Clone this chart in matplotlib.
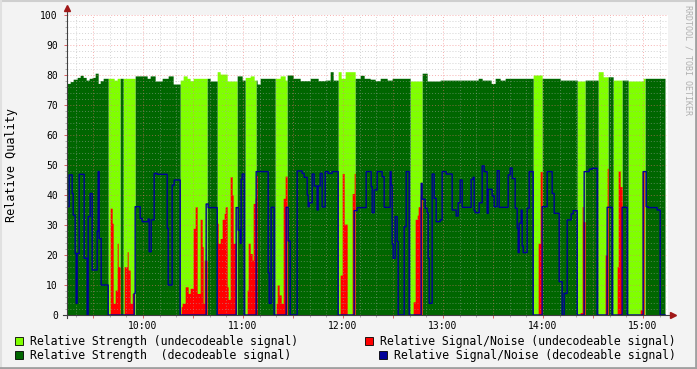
import numpy as np
import matplotlib.pyplot as plt
from matplotlib.ticker import MultipleLocator, FuncFormatter
from matplotlib.patches import Rectangle
from matplotlib.lines import Line2D

# time axis: minutes after 09:00
t_start = 14.4
t_end = 373.2

# periods where the signal could not be decoded (start, end)
undec_start = [39.0, 48.0, 82.2, 104.4, 121.2, 139.2, 177.0, 220.2, 294.0, 320.4, 333.0, 342.0, 351.0]
undec_end = [46.2, 55.2, 98.4, 116.4, 127.8, 146.4, 187.2, 227.4, 299.4, 325.2, 339.0, 347.4, 361.2]

# relative strength, step breakpoints (minute, value)
strength_t = [14.4, 16.2, 18.0, 20.4, 22.2, 24.0, 25.8, 27.6, 29.4, 31.2, 33.0, 34.2, 36.0, 42.6,
              44.4, 55.2, 62.4, 64.2, 67.2, 71.4, 75.0, 78.0, 82.2, 84.0, 86.4, 88.2, 90.0, 100.2,
              104.4, 106.2, 110.4, 116.4, 119.4, 121.2, 124.2, 126.6, 128.4, 130.2, 142.2, 145.2,
              146.4, 150.0, 154.2, 160.2, 165.0, 169.2, 172.2, 174.0, 177.0, 178.8, 181.2, 187.2,
              190.2, 192.6, 196.2, 199.2, 202.2, 206.4, 209.4, 220.2, 227.4, 230.4, 238.2, 261.0,
              263.4, 268.8, 271.2, 274.2, 277.2, 294.0, 299.4, 310.2, 320.4, 325.2, 333.0, 336.0,
              342.0, 351.0, 360.0]
strength_v = [77.2, 77.8, 78.6, 79.2, 79.9, 79.2, 78.3, 78.9, 79.2, 80.6, 77.2, 78.1, 78.9, 78.3,
              78.9, 79.7, 78.9, 79.7, 78.0, 78.9, 79.7, 77.0, 78.3, 79.7, 78.9, 78.1, 78.9, 78.0,
              81.1, 80.3, 78.0, 79.7, 78.3, 79.2, 79.7, 78.3, 77.0, 78.9, 79.7, 78.3,
              80.0, 78.9, 78.1, 78.9, 78.1, 78.3, 81.1, 78.3, 81.1, 78.9, 81.1, 78.9,
              79.9, 78.9, 78.6, 78.1, 78.9, 78.3, 78.9, 78.0, 80.6, 78.0, 78.3, 78.9,
              78.3, 77.2, 78.9, 78.3, 78.9, 80.0, 78.9, 78.3, 78.0, 78.3, 81.1, 79.4,
              78.3, 78.0, 78.9]

# relative signal/noise while undecodeable (red)
snr_bad_t = [14.4, 40.2, 41.4, 42.0, 43.2, 44.4, 45.0, 46.2, 48.6, 50.4, 51.0, 52.2, 53.4, 54.6,
             82.8, 83.4, 85.2, 87.0, 88.2, 90.0, 91.2, 92.4, 94.2, 95.4, 96.0, 96.6, 98.4,
             104.4, 105.0, 106.2, 107.4, 108.6, 109.2, 110.4, 111.0, 112.2, 113.4, 114.0, 115.8,
             122.4, 123.0, 124.2, 125.4, 126.0, 127.2, 127.8, 128.4,
             139.8, 140.4, 141.6, 142.8, 144.0, 145.2, 146.4,
             178.2, 179.4, 180.6, 182.4, 185.4, 186.6, 187.2,
             222.0, 223.2, 224.4, 225.0, 226.2, 226.8, 227.4,
             297.0, 298.2, 299.4, 322.2, 323.4, 324.0, 325.2, 337.2, 338.4, 339.0,
             344.4, 345.0, 346.2, 347.4, 358.2, 359.4, 360.6]
snr_bad_v = [0, 35.6, 30.6, 3.9, 8.3, 23.9, 16.1, 0, 16.1, 21.1, 15.0, 3.9, 7.2, 0,
             2.8, 3.9, 9.4, 7.2, 8.9, 28.9, 36.1, 7.2, 31.9, 22.8, 3.9, 18.3, 0,
             30.6, 23.9, 25.5, 31.9, 33.9, 36.1, 9.4, 5.2, 46.1, 40.0, 23.9, 0,
             8.3, 23.9, 20.5, 18.3, 37.2, 39.0, 46.5, 0,
             3.9, 10.0, 6.7, 3.9, 38.9, 46.3, 0,
             13.3, 47.2, 30.3, 0, 40.5, 47.2, 0,
             4.4, 31.9, 33.3, 36.1, 39.7, 43.9, 0,
             23.9, 47.8, 0, 0.8, 36.1, 31.1, 0, 20.0, 48.9, 0,
             16.1, 48.0, 42.8, 0, 1.7, 48.0, 0]

# relative signal/noise while decodeable (blue)
snr_good_t = [14.4, 15.6, 17.4, 18.0, 19.2, 19.8, 20.4, 21.6, 24.6, 26.4, 27.0, 28.2, 29.4, 32.4,
              33.0, 33.6, 34.8, 39.0, 54.6, 55.2, 58.2, 59.4, 63.0, 63.6, 64.8, 66.6, 68.4, 74.4,
              75.0, 77.4, 78.6, 82.2, 97.8, 99.0, 104.4, 115.8, 117.0, 118.2, 118.8, 119.4, 120.6,
              127.8, 135.0, 135.6, 136.8, 138.6, 145.8, 147.0, 148.2, 152.4, 155.4, 156.6, 158.4,
              159.0, 159.6, 161.4, 162.6, 164.4, 165.0, 166.2, 167.4, 169.2, 171.0, 173.4, 177.0,
              186.6, 188.4, 193.8, 196.8, 197.4, 198.6, 200.4, 203.4, 204.6, 208.2, 208.8, 209.4,
              210.0, 211.2, 212.4, 213.0, 216.6, 217.8, 219.6, 226.8, 227.4, 229.2, 230.4, 231.0,
              231.6, 233.4, 234.6, 235.8, 238.2, 239.4, 241.8, 245.4, 247.8, 249.0, 250.2, 251.4,
              256.8, 258.0, 258.6, 259.2, 261.6, 263.4, 264.6, 266.4, 267.0, 269.4, 270.6, 272.4,
              273.6, 279.0, 280.2, 281.4, 283.2, 284.4, 285.0, 285.6, 286.8, 287.4, 288.0, 290.4,
              291.6, 294.0, 299.4, 302.4, 305.4, 306.6, 309.6, 311.4, 312.6, 314.4, 316.8, 318.0,
              320.4, 324.6, 327.6, 329.4, 332.4, 338.4, 341.4, 347.4, 350.4, 360.0, 361.8, 363.0,
              368.4, 370.2]
snr_good_v = [36.1, 46.7, 40.5, 33.3, 20.5, 3.9, 20.5, 46.9, 18.9, 0, 32.8, 40.5, 15.0, 28.0,
              47.8, 25.5, 10.0, 0, 7.2, 36.1, 32.2, 31.1, 32.0, 21.1, 31.7, 47.2, 46.9, 28.9,
              10.0, 43.3, 45.0, 0, 37.0, 35.8, 0, 35.8, 28.3, 23.9, 45.2, 47.0, 0,
              47.8, 14.1, 3.9, 35.9, 0, 35.9, 24.7, 0, 48.0, 47.2, 45.9, 40.0,
              36.1, 37.4, 47.0, 43.0, 35.0, 43.0, 47.2, 36.0, 47.8, 47.2, 47.8, 0,
              34.8, 35.8, 47.8, 42.8, 34.1, 41.7, 47.8, 46.1, 35.9, 47.8, 43.3, 23.6,
              18.9, 32.8, 24.5, 0, 29.4, 47.8, 0, 43.9, 38.6, 35.6, 34.1, 18.9,
              3.9, 47.0, 38.9, 31.1, 31.7, 47.8, 47.0, 35.0, 33.0, 37.4, 45.0, 35.9,
              45.2, 45.9, 34.8, 34.1, 37.4, 49.7, 47.8, 33.9, 41.9, 39.7, 36.1, 48.1,
              35.9, 46.7, 49.0, 45.5, 35.6, 28.9, 20.8, 30.6, 35.0, 23.0, 20.8, 35.6,
              47.8, 0, 36.1, 47.8, 40.5, 33.9, 11.1, 0, 7.2, 31.7, 33.7, 34.8,
              0, 47.8, 48.6, 48.9, 0, 35.9, 0, 35.9, 0, 47.8, 36.1, 35.8,
              35.0, 0]

hour_labels = ["10:00", "11:00", "12:00", "13:00", "14:00", "15:00"]

legend_labels = ["Relative Strength (undecodeable signal)",
                 "Relative Strength  (decodeable signal)",
                 "Relative Signal/Noise (undecodeable signal)",
                 "Relative Signal/Noise (decodeable signal)"]

C_LIGHT = "#80FF00"
C_DARK = "#006600"
C_RED = "#FF0000"
C_BLUE = "#000099"
MONO = "DejaVu Sans Mono"

W, H = 697, 369


def step_eval(bp_t, bp_v, t):
    idx = np.searchsorted(bp_t, t, side="right") - 1
    return np.asarray(bp_v, dtype=float)[np.clip(idx, 0, None)]


t = np.arange(t_start, t_end + 0.05, 0.1)
undec = np.zeros(t.shape, dtype=bool)
for a, b in zip(undec_start, undec_end):
    undec |= (t >= a) & (t < b)

strength = step_eval(strength_t, strength_v, t)
red = step_eval(snr_bad_t, snr_bad_v, t)
blue = step_eval(snr_good_t, snr_good_v, t)

fig = plt.figure(figsize=(W / 100, H / 100), dpi=100, facecolor="#F3F3F3")
ax = fig.add_axes([67 / W, 1 - 315 / H, 601 / W, 300 / H])
ax.set_facecolor("white")

ax.fill_between(t, 0, np.where(undec, strength, 0), step="post", color=C_LIGHT, lw=0, zorder=1)
ax.fill_between(t, 0, np.where(undec, 0, strength), step="post", color=C_DARK, lw=0, zorder=1)
ax.fill_between(t, 0, red, step="post", color=C_RED, lw=0, zorder=1.5)
ax.step(t, blue, where="post", color=C_BLUE, lw=1.0, zorder=3)

ax.set_xlim(t_start, 375.0)
ax.set_ylim(0, 100)

ax.xaxis.set_major_locator(MultipleLocator(30))
ax.xaxis.set_minor_locator(MultipleLocator(10))
ax.yaxis.set_major_locator(MultipleLocator(10))
ax.yaxis.set_minor_locator(MultipleLocator(2))


def fmt_time(v, pos):
    h = int(round(v)) // 60
    if abs(v - 60 * h) < 0.5 and 1 <= h <= len(hour_labels):
        return hour_labels[h - 1]
    return ""


ax.xaxis.set_major_formatter(FuncFormatter(fmt_time))
ax.set_axisbelow(False)
ax.grid(which="minor", color="#A8A8A8", linestyle=(0, (1, 2)), lw=0.7, alpha=0.5)
ax.grid(which="major", color="#F07070", linestyle=(0, (1, 2)), lw=0.7, alpha=0.55)

ax.tick_params(which="major", length=2, width=0.7, color="#E06060", labelsize=7, pad=2)
ax.tick_params(which="minor", length=1.5, width=0.6, color="#A0A0A0")
ax.tick_params(axis="y", pad=4.5)
for lab in ax.get_xticklabels() + ax.get_yticklabels():
    lab.set_fontfamily(MONO)

for s in ax.spines.values():
    s.set_visible(False)

# axis lines with arrow heads
ax.plot([0, 0], [-0.01, 1.02], transform=ax.transAxes, color="#404040", lw=0.8, clip_on=False, zorder=5)
ax.plot([-0.006, 1.006], [0, 0], transform=ax.transAxes, color="#404040", lw=0.8, clip_on=False, zorder=5)
ax.plot(0, 1.022, marker="^", ms=4, color="#A01818", transform=ax.transAxes, clip_on=False, zorder=6)
ax.plot(1.008, 0, marker=">", ms=4, color="#A01818", transform=ax.transAxes, clip_on=False, zorder=6)

fig.text(12 / W, 1 - 165 / H, "Relative Quality", rotation=90, ha="center", va="center",
         fontsize=8.5, family=MONO)
fig.text(688 / W, 1 - 60 / H, "RRDTOOL / TOBI OETIKER", rotation=270, ha="center", va="center",
         fontsize=6, family=MONO, color="#B0B0B0")

# legend
legend_colors = [C_LIGHT, C_DARK, C_RED, C_BLUE]
legend_pos = [(15, 341), (15, 355), (365, 341), (379, 355)]
for (bx, by), c, lab in zip(legend_pos, legend_colors, legend_labels):
    fig.patches.append(Rectangle((bx / W, 1 - (by + 4) / H), 8 / W, 8 / H, facecolor=c,
                                 edgecolor="black", lw=0.6, transform=fig.transFigure))
    fig.text((bx + 15) / W, 1 - by / H, lab, ha="left", va="center", fontsize=8.3, family=MONO)

# frame
fig.add_artist(Line2D([0, 1], [1 - 0.5 / H, 1 - 0.5 / H], transform=fig.transFigure, color="#CFCFCF", lw=1.5))
fig.add_artist(Line2D([0.5 / W, 0.5 / W], [0, 1], transform=fig.transFigure, color="#E0E0E0", lw=1.5))
fig.add_artist(Line2D([0, 1], [1.5 / H, 1.5 / H], transform=fig.transFigure, color="#A0A0A0", lw=2))
fig.add_artist(Line2D([1 - 1.5 / W, 1 - 1.5 / W], [0, 1], transform=fig.transFigure, color="#A0A0A0", lw=2))

fig.savefig("out.png", dpi=100, facecolor=fig.get_facecolor())
